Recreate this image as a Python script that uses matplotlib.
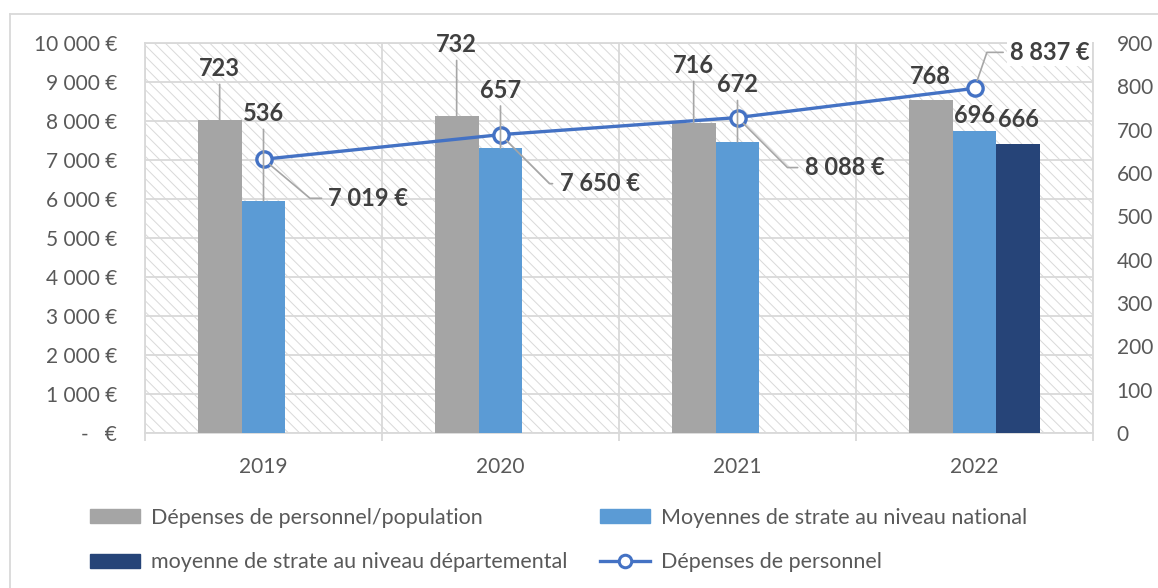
import matplotlib
matplotlib.use("Agg")
import matplotlib.pyplot as plt
from matplotlib.lines import Line2D
from matplotlib.patches import Rectangle, Patch

plt.rcParams["font.family"] = ["Lato", "DejaVu Sans"]
plt.rcParams["hatch.linewidth"] = 0.7
plt.rcParams["hatch.color"] = "#d9d9d9"

years = ["2019", "2020", "2021", "2022"]
dep_pop = [723, 732, 716, 768]
moy_nat = [536, 657, 672, 696]
moy_dep = [None, None, None, 666]
dep_personnel = [7019, 7650, 8088, 8837]

left_ticks = list(range(0, 10001, 1000))
right_ticks = list(range(0, 901, 100))

GRAY = "#A5A5A5"
BLUE = "#5B9BD5"
DARK = "#264478"
LINE = "#4472C4"
GRID = "#d9d9d9"
TXT = "#595959"
LAB = "#404040"
LEAD = "#A6A6A6"
FS = 15


def euro(v):
    if v == 0:
        return "-   €"
    return f"{v:,}".replace(",", " ") + " €"


fig = plt.figure(figsize=(11.58, 5.88), dpi=100)
ax = fig.add_axes([145 / 1158, 1 - 433 / 588, 948 / 1158, 390 / 588])
ax2 = ax.twinx()

# hatched plot area background
ax.add_patch(Rectangle((0, 0), 1, 1, transform=ax.transAxes, facecolor="white",
                       edgecolor=GRID, lw=0, hatch="\\\\\\", zorder=0))
ax.set_axisbelow(True)

x = list(range(len(years)))
w = 0.185

ax.set_xlim(-0.5, 3.5)
ax.set_ylim(0, 10000)
ax.set_yticks(left_ticks)
ax.set_yticklabels([euro(v) for v in left_ticks])
ax.set_xticks(x)
ax.set_xticklabels(years)
ax.set_xticks([i - 0.5 for i in range(len(years) + 1)], minor=True)
ax.grid(True, axis="y", color=GRID, lw=1.3)
ax.grid(True, axis="x", which="minor", color=GRID, lw=1.3)
ax.tick_params(axis="x", which="major", length=0, pad=17, labelsize=FS, labelcolor=TXT)
ax.tick_params(axis="x", which="minor", length=6, color=GRID, width=1.3)
ax.tick_params(axis="y", length=0, pad=20, labelsize=FS, labelcolor=TXT)
for s in ax.spines.values():
    s.set_color(GRID)
    s.set_linewidth(1.3)

ax2.set_ylim(0, 900)
ax2.set_yticks(right_ticks)
ax2.tick_params(axis="y", length=0, pad=17, labelsize=FS, labelcolor=TXT)
for s in ax2.spines.values():
    s.set_visible(False)

ax2.bar([i - w for i in x], dep_pop, width=w, color=GRAY, zorder=2)
ax2.bar(x, moy_nat, width=w, color=BLUE, zorder=2)
dep_x = [i + w for i, v in zip(x, moy_dep) if v is not None]
dep_v = [v for v in moy_dep if v is not None]
ax2.bar(dep_x, dep_v, width=w, color=DARK, zorder=2)

ax2.plot(x, dep_personnel, transform=ax.transData, color=LINE, lw=2.4,
         marker="o", ms=11, mfc="white", mec=LINE, mew=2.4, zorder=4,
         clip_on=False)

lab_kw = dict(textcoords="offset pixels", ha="center", va="center",
              fontsize=17, fontweight="bold", color=LAB, zorder=5)
lead = dict(arrowstyle="-", color=LEAD, lw=1.2, shrinkA=1, shrinkB=0)

# bar labels (offsets in pixels from the bar top)
gray_off = [(0, 51, True), (0, 71, True), (0, 57, True), (0, 24, False)]
for i, (v, (dx, dy, has)) in enumerate(zip(dep_pop, gray_off)):
    ax2.annotate(str(v), xy=(i - w, v), xytext=(dx, dy),
                 arrowprops=lead if has else None, **lab_kw)
blue_off = [(0, 87, True), (0, 58, True), (0, 57, True), (0, 16, False)]
for i, (v, (dx, dy, has)) in enumerate(zip(moy_nat, blue_off)):
    ax2.annotate(str(v), xy=(i, v), xytext=(dx, dy),
                 arrowprops=lead if has else None, **lab_kw)
for xx, v in zip(dep_x, dep_v):
    ax2.annotate(str(v), xy=(xx, v), xytext=(0, 25), **lab_kw)

# line labels
line_off = [(105, -39, -40), (99, -49, -45), (107, -50, -45), (75, 36, 71)]
for i, (v, (dx, dy, ang)) in enumerate(zip(dep_personnel, line_off)):
    arr = dict(lead, connectionstyle=f"angle,angleA=0,angleB={ang},rad=0",
               shrinkA=3, shrinkB=6)
    kw = dict(lab_kw)
    if i == 3:
        kw["bbox"] = dict(boxstyle="square,pad=0.1", fc="white", ec="none")
    ax2.annotate(euro(v), xy=(i, v), xycoords=ax.transData, xytext=(dx, dy),
                 arrowprops=arr, **kw)

handles = [Patch(color=GRAY), Patch(color=DARK), Patch(color=BLUE),
           Line2D([], [], color=LINE, lw=2.4, marker="o", ms=9, mfc="white",
                  mec=LINE, mew=2.2)]
labels = ["Dépenses de personnel/population",
          "moyenne de strate au niveau départemental",
          "Moyennes de strate au niveau national",
          "Dépenses de personnel"]
fig.legend(handles, labels, loc="center left", ncol=2,
           bbox_to_anchor=(90 / 1158, 1 - 540 / 588), frameon=False,
           fontsize=15.5, labelcolor=TXT, handlelength=2.3, handleheight=0.6,
           handletextpad=0.55, columnspacing=1.5, labelspacing=1.15,
           borderpad=0, borderaxespad=0)

# chart frame
fig.add_artist(Line2D([10 / 1158, 1], [1 - 14 / 588, 1 - 14 / 588],
                      transform=fig.transFigure, color=GRID, lw=1.3))
fig.add_artist(Line2D([10 / 1158, 10 / 1158], [0, 1 - 14 / 588],
                      transform=fig.transFigure, color=GRID, lw=1.3))

fig.savefig("out.png", dpi=100)
